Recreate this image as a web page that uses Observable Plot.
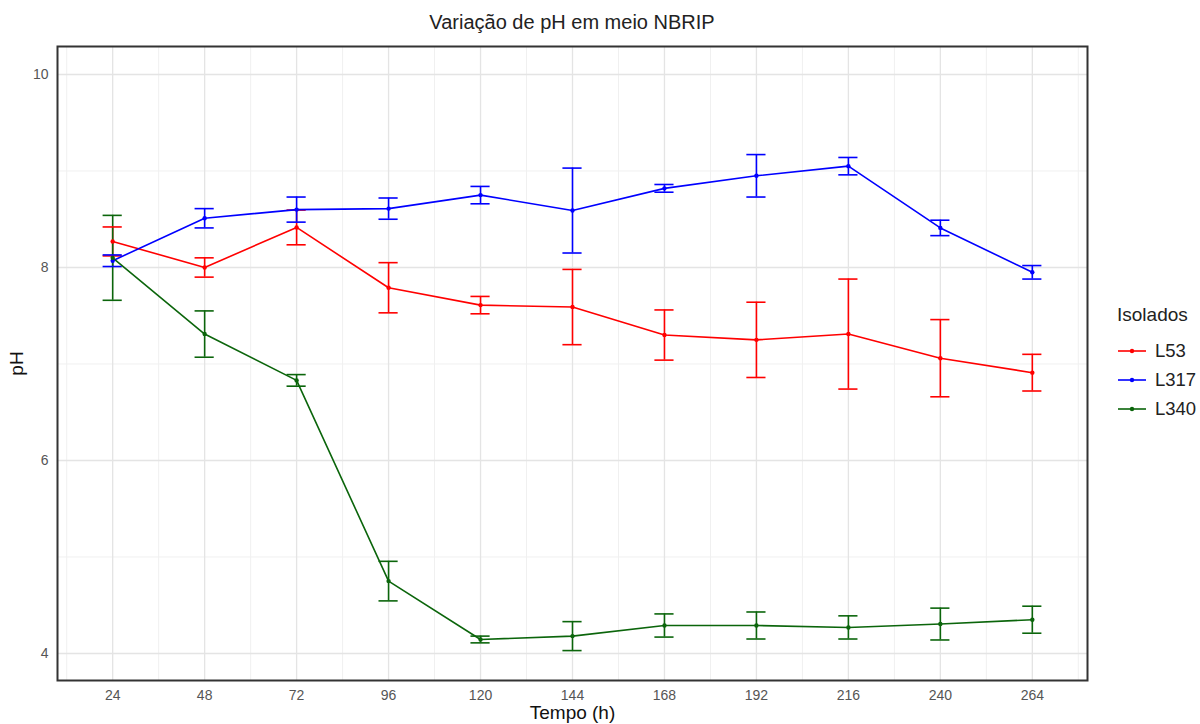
<!DOCTYPE html>
<html>
<head>
<meta charset="utf-8">
<script src="https://cdn.jsdelivr.net/npm/d3@7"></script>
<script src="https://cdn.jsdelivr.net/npm/@observablehq/plot@0.6"></script>
<style>
  html, body { margin: 0; padding: 0; background: #fff; }
  #wrap { position: relative; width: 1200px; height: 724px; font-family: "Liberation Sans", Arial, sans-serif; overflow: hidden; }
  #title { position: absolute; left: 0; top: 9px; width: 1144px; text-align: center; font-size: 20px; line-height: 26px; color: #222; }
  #legend { position: absolute; left: 1117px; top: 302px; color: #222; }
  #legend .lt { font-size: 19px; line-height: 26px; margin-bottom: 8px; }
  #legend .it { display: flex; align-items: center; height: 29px; font-size: 18.5px; }
  #legend svg { margin-right: 8px; }
</style>
</head>
<body>
<div id="wrap">
  <div id="title">Variação de pH em meio NBRIP</div>
  <div id="chart"></div>
  <div id="legend"></div>
</div>
<script>
// ---- data ----
const times = [24, 48, 72, 96, 120, 144, 168, 192, 216, 240, 264];
const seriesNames = ["L53", "L317", "L340"];
const seriesColors = ["#ff0000", "#0000ff", "#0b650b"];
const l53Mean = [8.27, 8.00, 8.415, 7.79, 7.61, 7.59, 7.30, 7.25, 7.31, 7.06, 6.91];
const l53Err  = [0.15, 0.10, 0.18, 0.26, 0.09, 0.39, 0.26, 0.39, 0.57, 0.40, 0.19];
const l317Mean = [8.07, 8.51, 8.60, 8.61, 8.75, 8.59, 8.82, 8.95, 9.05, 8.41, 7.95];
const l317Err  = [0.06, 0.10, 0.13, 0.11, 0.09, 0.44, 0.04, 0.22, 0.09, 0.08, 0.07];
const l340Mean = [8.10, 7.31, 6.83, 4.75, 4.145, 4.18, 4.29, 4.29, 4.27, 4.305, 4.35];
const l340Err  = [0.44, 0.24, 0.06, 0.205, 0.035, 0.15, 0.12, 0.14, 0.12, 0.165, 0.14];
const yTicks = [4, 6, 8, 10];
const yMinor = [5, 7, 9];
const xMinor = [12, 36, 60, 84, 108, 132, 156, 180, 204, 228, 252, 276];

const capHalf = 2.5; // half width of error-bar caps, in hours

const means = [l53Mean, l317Mean, l340Mean];
const errs = [l53Err, l317Err, l340Err];
const data = [];
seriesNames.forEach((s, i) => {
  times.forEach((t, j) => {
    const m = means[i][j], e = errs[i][j];
    data.push({series: s, t, ph: m, lo: m - e, hi: m + e, t1: t - capHalf, t2: t + capHalf});
  });
});

const chart = Plot.plot({
  width: 1200,
  height: 724,
  marginLeft: 57,
  marginRight: 113,
  marginTop: 46,
  marginBottom: 44,
  style: {fontFamily: "'Liberation Sans', Arial, sans-serif", background: "transparent"},
  x: {domain: [9.6, 278.4]},
  y: {domain: [3.72, 10.29]},
  color: {domain: seriesNames, range: seriesColors},
  marks: [
    Plot.ruleX(xMinor, {stroke: "#f0f0f0", strokeWidth: 1}),
    Plot.ruleY(yMinor, {stroke: "#f0f0f0", strokeWidth: 1}),
    Plot.ruleX(times, {stroke: "#e4e4e4", strokeWidth: 1.3}),
    Plot.ruleY(yTicks, {stroke: "#e4e4e4", strokeWidth: 1.3}),
    Plot.axisX({ticks: times, tickSize: 0, tickPadding: 10, fontSize: 14, color: "#555", tickFormat: "d", label: "Tempo (h)", labelAnchor: "center", labelArrow: "none", labelOffset: 38}),
    Plot.axisY({ticks: yTicks, tickSize: 0, tickPadding: 9, fontSize: 14, color: "#555", tickFormat: "d", label: "pH", labelAnchor: "center", labelArrow: "none", labelOffset: 48}),
    Plot.ruleX(data, {x: "t", y1: "lo", y2: "hi", stroke: "series", strokeWidth: 1.6}),
    Plot.ruleY(data, {y: "lo", x1: "t1", x2: "t2", stroke: "series", strokeWidth: 1.6}),
    Plot.ruleY(data, {y: "hi", x1: "t1", x2: "t2", stroke: "series", strokeWidth: 1.6}),
    Plot.line(data, {x: "t", y: "ph", z: "series", stroke: "series", strokeWidth: 1.6}),
    Plot.dot(data, {x: "t", y: "ph", fill: "series", r: 2.2}),
    Plot.frame({stroke: "#333", strokeWidth: 2})
  ]
});
// axis label styling
chart.querySelectorAll("g[aria-label='x-axis label'] text, g[aria-label='y-axis label'] text").forEach(t => {
  t.setAttribute("font-size", "19");
  t.setAttribute("fill", "#111");
  t.style.fontSize = "19px";
});
document.getElementById("chart").appendChild(chart);

// legend
const legend = document.getElementById("legend");
const lt = document.createElement("div");
lt.className = "lt";
lt.textContent = "Isolados";
legend.appendChild(lt);
seriesNames.forEach((s, i) => {
  const it = document.createElement("div");
  it.className = "it";
  const c = seriesColors[i];
  it.innerHTML = `<svg width="30" height="10"><line x1="1" y1="5" x2="29" y2="5" stroke="${c}" stroke-width="1.6"/><circle cx="15" cy="5" r="2.2" fill="${c}"/></svg><span>${s}</span>`;
  legend.appendChild(it);
});
</script>
</body>
</html>
